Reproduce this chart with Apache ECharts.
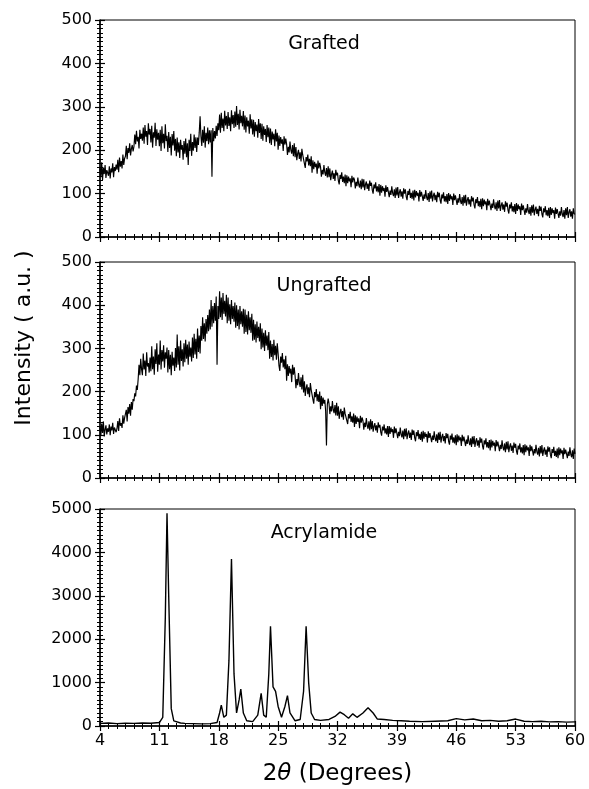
<!DOCTYPE html>
<html>
<head>
<meta charset="utf-8">
<script src="https://cdn.jsdelivr.net/npm/echarts@6/dist/echarts.min.js"></script>
<style>
html, body { margin: 0; padding: 0; background: #fff; }
#chart { width: 589px; height: 789px; }
</style>
</head>
<body>
<div id="chart"></div>
<script>
// panel names, top to bottom
var panelNames = ['Grafted', 'Ungrafted', 'Acrylamide'];
// 2theta tick labels
var xTicks = [4, 11, 18, 25, 32, 39, 46, 53, 60];
var yMax = [500, 500, 5000];
var yStep = [100, 100, 1000];
// scans read every 0.1 deg from 4 deg (one row per degree)
var scanStart = 4, scanStep = 0.1;
var grafted = [
  158,138,172,131,160,145,166,136,154,148,
  141,163,135,158,149,170,138,161,152,167,
  155,178,149,183,162,175,158,190,166,181,
  186,210,179,205,194,216,188,203,212,197,
  208,236,214,245,220,231,204,247,226,238,
  222,252,215,258,231,244,212,262,236,249,
  218,256,206,241,229,263,210,248,224,240,
  209,247,198,255,216,238,204,260,221,233,
  196,242,205,231,188,237,211,244,199,226,
  186,229,195,218,182,224,201,212,178,221,
  192,227,184,216,166,224,198,238,187,219,
  199,236,205,230,196,229,212,241,278,232,
  210,247,217,255,206,240,221,252,214,246,
  218,246,139,251,221,244,227,256,233,262,
  246,282,240,286,251,273,244,291,257,279,
  249,288,256,276,244,292,260,281,251,289,
  254,302,258,284,248,293,262,279,255,290,
  247,280,241,276,255,268,238,283,250,271,
  236,270,231,265,244,259,229,272,240,262,
  226,261,222,255,235,249,219,258,230,252,
  216,250,212,243,225,238,209,248,220,240,
  201,234,210,230,215,225,198,232,213,227,
  214,189,208,195,220,200,192,212,186,216,
  184,207,177,192,201,180,195,174,203,189,
  189,169,159,184,174,190,165,180,163,186,
  148,177,156,173,161,169,146,176,158,171,
  161,139,155,144,166,149,141,159,137,163,
  138,158,131,145,153,134,147,129,155,142,
  148,130,121,143,134,149,127,139,124,144,
  117,142,124,139,128,135,115,141,126,137,
  132,112,127,117,137,121,114,130,110,134,
  114,133,108,121,128,111,123,106,130,118,
  125,108,100,121,112,126,105,117,103,122,
  95,120,102,117,106,113,93,119,104,115,
  112,92,107,97,117,101,94,110,90,114,
  96,115,90,103,110,93,105,88,112,100,
  110,93,85,106,97,111,90,102,88,107,
  84,109,91,106,95,102,82,108,93,104,
  103,83,98,88,108,92,85,101,81,105,
  88,107,82,95,102,85,97,80,104,92,
  102,85,77,98,89,103,82,94,80,99,
  76,101,83,98,87,94,74,100,85,96,
  94,74,89,79,99,83,76,92,72,96,
  78,97,72,85,92,75,87,70,94,82,
  91,74,66,87,78,92,71,83,69,88,
  64,89,71,86,75,82,62,88,73,84,
  82,62,77,67,87,71,64,80,60,84,
  66,85,60,73,80,63,75,58,82,70,
  79,62,54,75,66,80,59,71,57,76,
  53,78,60,75,64,71,51,77,62,73,
  71,51,66,56,76,60,53,69,49,73,
  56,75,50,63,70,53,65,48,72,60,
  70,53,45,66,57,71,50,62,48,67,
  44,69,51,66,55,62,42,68,53,64,
  64,44,59,49,69,53,46,62,42,66,
  50,69,44,57,64,47,59,42,66,54,
  52
];
var ungrafted = [
  118,98,126,104,131,96,112,122,101,115,
  107,124,99,119,110,128,102,117,121,106,
  114,132,109,138,121,127,116,145,126,139,
  136,158,131,164,149,171,144,176,158,183,
  178,196,189,214,204,229,262,238,276,252,
  238,288,251,272,236,291,258,266,244,279,
  247,305,252,281,239,298,264,312,246,286,
  262,318,251,296,270,307,255,291,276,302,
  244,296,252,285,238,292,260,279,248,301,
  256,332,262,305,249,318,271,298,258,312,
  268,320,276,309,262,316,281,302,270,325,
  278,334,286,322,276,346,292,330,288,352,
  318,372,322,358,316,368,334,377,340,390,
  344,412,350,398,358,405,364,420,262,398,
  368,432,372,418,366,428,380,410,374,424,
  358,418,364,402,356,412,368,398,362,406,
  348,400,352,390,344,398,356,386,350,392,
  334,390,338,378,332,386,342,372,336,380,
  318,366,320,356,314,362,324,350,316,358,
  298,346,302,336,294,342,306,330,296,338,
  276,318,280,310,272,320,284,306,274,312,
  288,260,248,281,267,289,256,275,252,283,
  225,263,236,259,242,253,222,262,239,256,
  236,208,229,215,243,221,211,233,205,239,
  198,224,190,208,217,194,210,187,220,204,
  204,182,172,199,187,206,178,194,176,200,
  159,190,167,186,172,181,156,75,170,184,
  172,148,166,154,178,158,150,169,145,174,
  144,166,137,152,160,141,155,135,163,149,
  152,133,125,148,138,153,130,143,128,149,
  118,145,125,142,130,138,115,144,128,140,
  133,112,128,118,139,122,114,131,110,136,
  113,132,107,120,127,110,122,105,129,117,
  123,106,98,119,110,124,103,115,101,120,
  95,120,102,117,106,113,93,119,104,115,
  112,92,107,97,117,101,94,110,90,114,
  96,115,90,103,110,93,105,88,112,100,
  110,93,85,106,97,111,90,102,88,107,
  84,109,91,106,95,102,82,108,93,104,
  103,83,98,88,108,92,85,101,81,105,
  88,107,82,95,102,85,97,80,104,92,
  102,85,77,98,89,103,82,94,80,99,
  76,101,83,98,87,94,74,100,85,96,
  94,74,89,79,99,83,76,92,72,96,
  78,97,72,85,92,75,87,70,94,82,
  91,74,66,87,78,92,71,83,69,88,
  64,89,71,86,75,82,62,88,73,84,
  82,62,77,67,87,71,64,80,60,84,
  66,85,60,73,80,63,75,58,82,70,
  79,62,54,75,66,80,59,71,57,76,
  53,78,60,75,64,71,51,77,62,73,
  72,52,67,57,77,61,54,70,50,74,
  57,76,51,64,71,54,66,49,73,61,
  71,54,46,67,58,72,51,63,49,68,
  46,71,53,68,57,64,44,70,55,66,
  66,46,61,51,71,55,48,64,44,68,
  56
];
// acrylamide [2theta, intensity]
var acrylamide = [
  [4,60],[5,70],[6,55],[7,65],[8,60],[9,70],[10,65],[11,80],[11.4,200],[11.7,2500],
  [11.9,4900],[12.1,3000],[12.4,400],[12.7,120],[13.5,70],[14,60],[15,55],[16,50],
  [17,55],[17.8,80],[18.1,300],[18.3,480],[18.6,200],[18.9,250],[19.2,1500],[19.5,3850],
  [19.8,1200],[20.1,300],[20.4,600],[20.6,850],[20.9,300],[21.3,120],[22,100],[22.6,250],
  [23,750],[23.3,250],[23.6,200],[23.9,1200],[24.1,2300],[24.4,900],[24.7,800],[25,450],
  [25.4,200],[25.8,450],[26.1,700],[26.4,300],[27,120],[27.6,150],[28,800],[28.3,2300],
  [28.6,1000],[28.9,300],[29.3,150],[30,130],[31,150],[31.7,220],[32.3,320],[32.8,260],
  [33.3,180],[33.8,280],[34.3,200],[35,300],[35.6,420],[36.2,300],[36.7,160],[37.5,150],
  [38.5,130],[39.5,120],[40.5,110],[42,100],[43.5,110],[45,120],[46,170],[47,140],
  [48,160],[49,120],[50,130],[51,110],[52,120],[53,160],[54,110],[55,100],[56,110],
  [57,95],[58,100],[59,90],[60,95]
];

function toPoints(values) {
  var pts = [];
  for (var i = 0; i < values.length; i++) {
    pts.push([+(scanStart + i * scanStep).toFixed(2), values[i]]);
  }
  return pts;
}

var chart = echarts.init(document.getElementById('chart'));
var font = 'DejaVu Sans';
var gridTops = [20, 262, 509];
var gridHeights = [217, 216, 217];
var lineCol = '#000';

var grids = [], xAxes = [], yAxes = [], texts = [];
for (var i = 0; i < 3; i++) {
  grids.push({
    left: 100, width: 475, top: gridTops[i], height: gridHeights[i],
    show: true, borderColor: lineCol, borderWidth: 1
  });
  // outer ticks + labels
  xAxes.push({
    type: 'value', gridIndex: i, position: 'bottom',
    min: xTicks[0], max: xTicks[xTicks.length - 1], interval: xTicks[1] - xTicks[0],
    axisLine: { lineStyle: { color: lineCol, width: 1.5 } },
    axisTick: { length: 5, lineStyle: { color: lineCol, width: 1.2 } },
    minorTick: { show: true, splitNumber: 7, length: 3, lineStyle: { color: lineCol, width: 1 } },
    splitLine: { show: false },
    axisLabel: {
      show: i === 2, color: lineCol, fontFamily: font, fontSize: 16, margin: 7,
      formatter: function (v) { return String(v); }
    },
    name: i === 2 ? '{n|2}{t|θ}{n| (Degrees)}' : '',
    nameLocation: 'middle', nameGap: 37,
    nameTextStyle: {
      rich: {
        n: { fontFamily: font, fontSize: 23, color: lineCol },
        t: { fontFamily: font, fontSize: 23, fontStyle: 'italic', color: lineCol }
      }
    }
  });
  // inner ticks so marks cross the axis
  xAxes.push({
    type: 'value', gridIndex: i, position: 'bottom',
    min: xTicks[0], max: xTicks[xTicks.length - 1], interval: xTicks[1] - xTicks[0],
    axisLine: { show: false },
    axisTick: { inside: true, length: 5, lineStyle: { color: lineCol, width: 1.2 } },
    minorTick: { show: true, splitNumber: 7, length: 3, lineStyle: { color: lineCol, width: 1 } },
    splitLine: { show: false },
    axisLabel: { show: false }
  });
  yAxes.push({
    type: 'value', gridIndex: i, position: 'left',
    min: 0, max: yMax[i], interval: yStep[i],
    axisLine: { lineStyle: { color: lineCol, width: 1.5 } },
    axisTick: { length: 5, lineStyle: { color: lineCol, width: 1.2 } },
    minorTick: { show: true, splitNumber: 10, length: 3, lineStyle: { color: lineCol, width: 1 } },
    splitLine: { show: false },
    axisLabel: {
      color: lineCol, fontFamily: font, fontSize: 16, margin: 8,
      formatter: function (v) { return String(v); }
    }
  });
  yAxes.push({
    type: 'value', gridIndex: i, position: 'left',
    min: 0, max: yMax[i], interval: yStep[i],
    axisLine: { show: false },
    axisTick: { inside: true, length: 5, lineStyle: { color: lineCol, width: 1.2 } },
    minorTick: { show: true, splitNumber: 10, length: 3, lineStyle: { color: lineCol, width: 1 } },
    splitLine: { show: false },
    axisLabel: { show: false }
  });
  texts.push({
    type: 'text', x: 324, y: gridTops[i] + 24,
    style: {
      text: panelNames[i], fill: lineCol, font: '19px "' + font + '"',
      textAlign: 'center', textVerticalAlign: 'middle'
    }
  });
}
// y title
texts.push({
  type: 'text', x: 24, y: 338, rotation: Math.PI / 2,
  style: {
    text: 'Intensity ( a.u. )', fill: lineCol, font: '22px "' + font + '"',
    textAlign: 'center', textVerticalAlign: 'middle'
  }
});

var seriesData = [toPoints(grafted), toPoints(ungrafted), acrylamide];
var series = [];
for (var k = 0; k < 3; k++) {
  series.push({
    name: panelNames[k], type: 'line',
    xAxisIndex: 2 * k, yAxisIndex: 2 * k,
    data: seriesData[k], showSymbol: false, symbol: 'none',
    lineStyle: { color: lineCol, width: k === 2 ? 1.4 : 1.15 }
  });
}

option = {
  animation: false,
  backgroundColor: '#fff',
  grid: grids,
  xAxis: xAxes,
  yAxis: yAxes,
  graphic: texts,
  series: series
};
chart.setOption(option);
</script>
</body>
</html>
